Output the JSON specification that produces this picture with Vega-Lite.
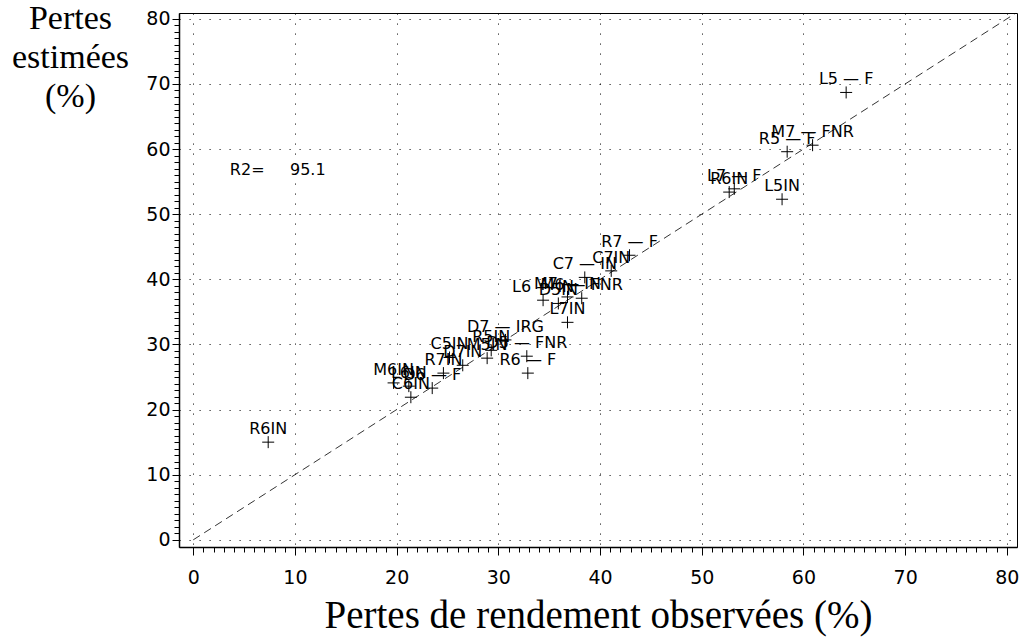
{
  "$schema": "https://vega.github.io/schema/vega-lite/v6.json",
  "width": 838,
  "height": 534,
  "autosize": "none",
  "padding": {"left": 179, "top": 13, "right": 2, "bottom": 91},
  "background": "white",
  "config": {
    "view": {"stroke": "black", "strokeWidth": 1},
    "axis": {"domainColor": "black", "tickColor": "black", "labelColor": "black", "titleColor": "black"}
  },
  "datasets": {
    "pts": [
      {"obs": 7.37, "est": 15.0, "lab": "R6IN"},
      {"obs": 64.2, "est": 68.7, "lab": "L5 — F"},
      {"obs": 60.9, "est": 60.6, "lab": "M7 — FNR"},
      {"obs": 58.4, "est": 59.6, "lab": "R5 — F"},
      {"obs": 53.2, "est": 53.9, "lab": "L7 — F"},
      {"obs": 52.7, "est": 53.4, "lab": "R6IN"},
      {"obs": 57.9, "est": 52.3, "lab": "L5IN"},
      {"obs": 42.9, "est": 43.7, "lab": "R7 — F"},
      {"obs": 38.5, "est": 40.3, "lab": "C7 — IN"},
      {"obs": 41.1, "est": 41.3, "lab": "C7IN"},
      {"obs": 34.4, "est": 36.8, "lab": "L6 — IN"},
      {"obs": 35.9, "est": 36.3, "lab": "D5IN"},
      {"obs": 36.8, "est": 37.3, "lab": "M7 — IN"},
      {"obs": 38.2, "est": 37.1, "lab": "M6 — FNR"},
      {"obs": 36.8, "est": 33.4, "lab": "L7IN"},
      {"obs": 30.7, "est": 30.7, "lab": "D7 — IRG"},
      {"obs": 29.3, "est": 29.1, "lab": "R5IN"},
      {"obs": 32.8, "est": 28.2, "lab": "D5 — FNR"},
      {"obs": 28.9, "est": 27.9, "lab": "M5IN"},
      {"obs": 25.2, "est": 28.0, "lab": "C5IN"},
      {"obs": 26.5, "est": 26.8, "lab": "D7IN"},
      {"obs": 32.9, "est": 25.6, "lab": "R6 — F"},
      {"obs": 24.6, "est": 25.6, "lab": "R7IN"},
      {"obs": 23.5, "est": 23.3, "lab": "D6 — F"},
      {"obs": 19.7, "est": 24.1, "lab": "M6IN"},
      {"obs": 21.2, "est": 23.6, "lab": "L6IN"},
      {"obs": 21.4, "est": 21.9, "lab": "C6IN"}
    ],
    "diag": [{"obs": 0, "est": 0}, {"obs": 80.8, "est": 80.8}],
    "ann": [{"obs": 3.6, "est": 56.8, "txt": "R2=\u00a0\u00a0\u00a0\u00a0\u00a095.1"}]
  },
  "layer": [
    {
      "data": {"name": "diag"},
      "mark": {"type": "line", "stroke": "black", "strokeWidth": 0.8, "strokeDash": [8, 5], "clip": true},
      "encoding": {
        "x": {"field": "obs", "type": "quantitative", "scale": {"domain": [-1.4, 81], "nice": false, "zero": false},
          "axis": {"values": [0,1,2,3,4,5,6,7,8,9,10,11,12,13,14,15,16,17,18,19,20,21,22,23,24,25,26,27,28,29,30,31,32,33,34,35,36,37,38,39,40,41,42,43,44,45,46,47,48,49,50,51,52,53,54,55,56,57,58,59,60,61,62,63,64,65,66,67,68,69,70,71,72,73,74,75,76,77,78,79,80],
            "orient": "bottom", "labels": false, "grid": false, "domain": false, "title": null, "tickSize": 5}},
        "y": {"field": "est", "type": "quantitative", "scale": {"domain": [-1.1, 80.9], "nice": false, "zero": false},
          "axis": {"values": [0,1,2,3,4,5,6,7,8,9,10,11,12,13,14,15,16,17,18,19,20,21,22,23,24,25,26,27,28,29,30,31,32,33,34,35,36,37,38,39,40,41,42,43,44,45,46,47,48,49,50,51,52,53,54,55,56,57,58,59,60,61,62,63,64,65,66,67,68,69,70,71,72,73,74,75,76,77,78,79,80],
            "orient": "left", "labels": false, "grid": false, "domain": false, "title": null, "tickSize": 5}}
      }
    },
    {
      "data": {"name": "pts"},
      "mark": {"type": "point", "shape": "M-1,0L1,0M0,-1L0,1", "size": 144, "filled": false, "stroke": "black", "strokeWidth": 1, "opacity": 1},
      "encoding": {
        "x": {"field": "obs", "type": "quantitative",
          "axis": {"values": [0,10,20,30,40,50,60,70,80], "orient": "bottom", "grid": true, "gridColor": "black", "gridDash": [1.2, 8.8], "gridWidth": 1, "gridOpacity": 0.85,
            "tickSize": 8, "labelFont": "DejaVu Sans", "labelFontSize": 19, "labelPadding": 13, "domain": true, "domainWidth": 1.5,
            "title": "Pertes de rendement observées (%)", "titleFont": "Liberation Serif", "titleFontSize": 39, "titleFontWeight": "normal",
            "titleBaseline": "alphabetic", "titleY": 80}},
        "y": {"field": "est", "type": "quantitative",
          "axis": {"values": [0,10,20,30,40,50,60,70,80], "orient": "left", "grid": true, "gridColor": "black", "gridDash": [1.2, 8.8], "gridWidth": 1, "gridOpacity": 0.85,
            "tickSize": 7, "labelFont": "DejaVu Sans", "labelFontSize": 19, "labelPadding": 2, "domain": true, "domainWidth": 1.5,
            "title": ["Pertes", "estimées", "(%)"], "titleFont": "Liberation Serif", "titleFontSize": 34, "titleFontWeight": "normal",
            "titleAngle": 0, "titleAlign": "center", "titleBaseline": "alphabetic", "titleX": -109, "titleY": 15, "titleLineHeight": 39}}
      }
    },
    {
      "data": {"name": "pts"},
      "mark": {"type": "text", "font": "DejaVu Sans", "fontSize": 16, "align": "center", "baseline": "alphabetic", "dy": -8, "color": "black"},
      "encoding": {
        "x": {"field": "obs", "type": "quantitative", "axis": null},
        "y": {"field": "est", "type": "quantitative", "axis": null},
        "text": {"field": "lab"}
      }
    },
    {
      "data": {"name": "ann"},
      "mark": {"type": "text", "font": "DejaVu Sans", "fontSize": 16, "align": "left", "baseline": "middle", "color": "black"},
      "encoding": {
        "x": {"field": "obs", "type": "quantitative", "axis": null},
        "y": {"field": "est", "type": "quantitative", "axis": null},
        "text": {"field": "txt"}
      }
    }
  ],
  "resolve": {"axis": {"x": "independent", "y": "independent"}}
}
